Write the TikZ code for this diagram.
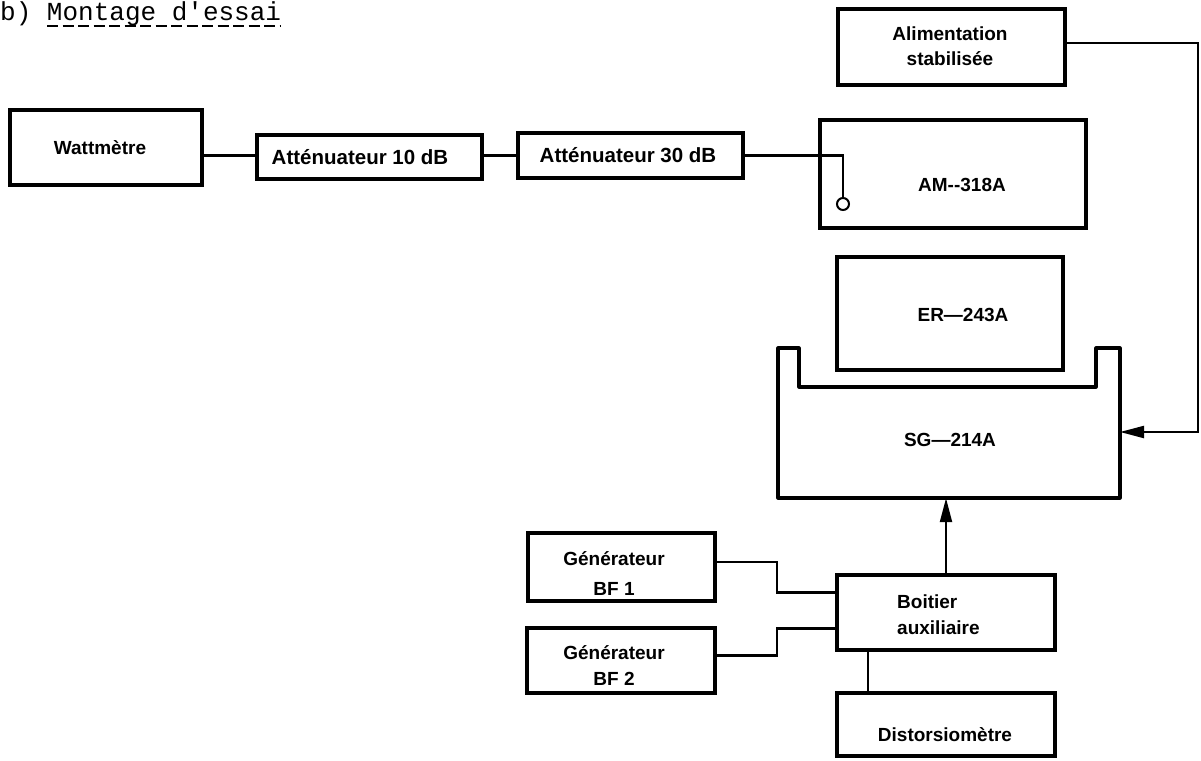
\documentclass[tikz,border=0pt]{standalone}
\usepackage{fontspec}
\setmainfont{Liberation Sans}
\newfontfamily\typewriter{Liberation Mono}
\usetikzlibrary{arrows.meta}

% a unit drawn as an empty frame between two corners (x1,y1) and (x2,y2)
\newcommand\placeunit[5]{%
  \node[unit, minimum width={#4-#2}, minimum height={#5-#3}]
    (#1) at ({(#2+#4)/2},{(#3+#5)/2}) {};}

\begin{document}
\begin{tikzpicture}[x=1pt,y=-1pt,
  unit/.style={draw, line width=3.2pt, inner sep=0pt, outer sep=0pt},
  lbl/.style={font=\fontsize{19}{22}\selectfont\bfseries, inner sep=0pt, align=center},
  biglbl/.style={lbl, font=\fontsize{20.5}{24}\selectfont\bfseries},
  wire/.style={line width=2.2pt},
  feed/.style={wire, -{Triangle[length=24pt,width=12pt]}},
  ]
\useasboundingbox (0,0) rectangle (1201,760);

% heading
\node[font=\typewriter\fontsize{26}{30}\selectfont, anchor=base west, inner sep=0pt]
  (title) at (0,21) {b) Montage d'essai};
\draw[line width=2.5pt, dash pattern=on 11pt off 4.5pt] (47,26) -- (281,26);

% units
\placeunit{watt}{10}{110}{202}{185}
\placeunit{att10}{257}{135}{482}{179}
\placeunit{att30}{518}{133}{743}{178}
\placeunit{alim}{838}{9}{1065}{85}
\placeunit{am}{820}{120}{1086}{228}
\placeunit{er}{837}{257}{1063}{370}
\placeunit{bf1}{528}{533}{715}{601}
\placeunit{bf2}{527}{628}{715}{693}
\placeunit{boitier}{837}{575}{1055}{650}
\placeunit{dist}{837}{693}{1055}{756}

% SG-214A: body with the cradle holding the ER-243A
\node[inner sep=0pt, minimum width=342, minimum height=111] (sg) at (949,442.5) {};
\draw[line width=3.2pt, line join=round]
  (778,348) -- (778,498) -- (1120,498) -- (1120,348) -- (1096,348)
  -- (1096,387) -- (799,387) -- (799,348) -- cycle;

% labels
\node[lbl] (watt-t) at (100,148) {Wattmètre};
\node[biglbl] (att10-t) at (360,157) {Atténuateur 10 dB};
\node[biglbl] (att30-t) at (628,155) {Atténuateur 30 dB};
\node[lbl] (alim-t) at (950,46) {Alimentation\\[3pt]stabilisée};
\node[lbl] (am-t) at (962,185) {AM-{}-318A};
\node[lbl] (er-t) at (963,315) {ER—243A};
\node[lbl] (sg-t) at (950,440) {SG—214A};
\node[lbl] (bf1-t) at (614,574) {Générateur\\[8pt]BF 1};
\node[lbl] (bf2-t) at (614,666) {Générateur\\[4pt]BF 2};
\node[lbl, align=left, anchor=west] (boitier-t) at (897,615) {Boitier\\[4pt]auxiliaire};
\node[lbl] (dist-t) at (945,735) {Distorsiomètre};

% probe inside the AM-318A
\node[draw, circle, line width=2pt, minimum size=12pt, inner sep=0pt] (probe) at (843,204) {};

% connections
\draw[wire] (watt.east |- att30.west) -- (att10.west |- att30.west);
\draw[wire] (att10.east |- att30.west) -- (att30.west);
\draw[wire] (att30.east) -| (probe.north);
\coordinate (sgin) at (1120,432);
\draw[feed] ([yshift=4pt]alim.east) -- ++(133,0) |- (sgin);
\draw[feed] (boitier.north) -- (boitier.north |- sg.south);
\draw[wire] ([yshift=5pt]bf1.east) -- ++(62,0) |- ([yshift=20pt]boitier.west);
\draw[wire] ([yshift=5pt]bf2.east) -- ++(62,0) |- ([yshift=-16pt]boitier.west);
\draw[wire] ([xshift=-78pt]boitier.south) -- ([xshift=-78pt]boitier.south |- dist.north);
\end{tikzpicture}
\end{document}
